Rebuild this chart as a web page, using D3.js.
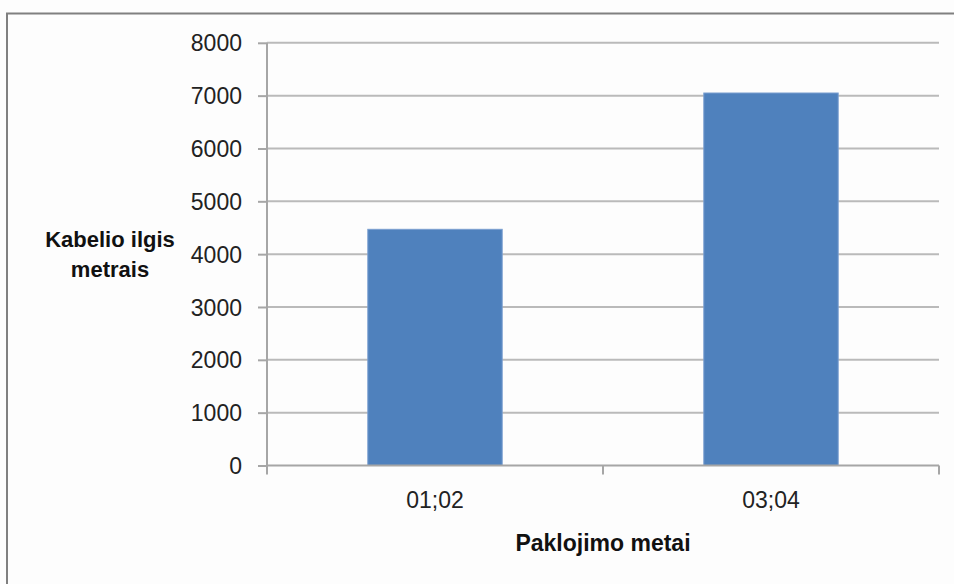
<!DOCTYPE html>
<html>
<head>
<meta charset="utf-8">
<script src="https://cdn.jsdelivr.net/npm/d3@7"></script>
<style>
  html, body { margin: 0; padding: 0; background: #fff; }
  svg { display: block; }
</style>
</head>
<body>
<svg id="chart" width="954" height="584"></svg>
<script>
// Cable length laid per period
const categories = ["01;02", "03;04"];
const lengths = [4470, 7050];
const yTicks = [0, 1000, 2000, 3000, 4000, 5000, 6000, 7000, 8000];
const yTitleLines = ["Kabelio ilgis", "metrais"];
const xTitle = "Paklojimo metai";

const svg = d3.select("#chart");
const W = 954, H = 584;
const plot = { left: 267, right: 939, top: 42.8, bottom: 465.5 };

svg.append("rect").attr("width", W).attr("height", H).attr("fill", "#fdfdfd");

// outer chart frame
svg.append("rect")
  .attr("x", 7).attr("y", 13.5)
  .attr("width", 980).attr("height", 600)
  .attr("fill", "none").attr("stroke", "#808080").attr("stroke-width", 2);

const x = d3.scaleBand()
  .domain(categories)
  .range([plot.left, plot.right])
  .paddingInner(0.6)
  .paddingOuter(0.3);

const y = d3.scaleLinear()
  .domain([0, 8000])
  .range([plot.bottom, plot.top]);

// horizontal gridlines
svg.append("g")
  .selectAll("line")
  .data(yTicks.filter(d => d > 0))
  .join("line")
  .attr("x1", plot.left).attr("x2", plot.right)
  .attr("y1", d => y(d)).attr("y2", d => y(d))
  .attr("stroke", "#bababa").attr("stroke-width", 2);

// bars
svg.append("g")
  .selectAll("rect")
  .data(categories.map((c, i) => ({ c, v: lengths[i] })))
  .join("rect")
  .attr("x", d => x(d.c))
  .attr("y", d => y(d.v))
  .attr("width", x.bandwidth())
  .attr("height", d => y(0) - y(d.v))
  .attr("fill", "#4f81bd")
  .attr("stroke", "#7a9fd0")
  .attr("stroke-width", 1);

const font = "'Liberation Sans', Arial, sans-serif";

// y axis
const yAxis = svg.append("g")
  .attr("transform", `translate(${plot.left},0)`)
  .call(d3.axisLeft(y).tickValues(yTicks).tickSize(9).tickPadding(16).tickFormat(d3.format("d")));
yAxis.select(".domain").attr("stroke", "#a6a6a6").attr("stroke-width", 2)
  .attr("d", `M0,${plot.top}V${plot.bottom}`);
yAxis.selectAll(".tick line").attr("stroke", "#a6a6a6").attr("stroke-width", 2);
yAxis.selectAll(".tick text")
  .attr("font-family", font).attr("font-size", 23).attr("fill", "#222")
  .attr("dy", "0.35em");

// x axis
const xAxis = svg.append("g")
  .attr("transform", `translate(0,${plot.bottom})`)
  .call(d3.axisBottom(x).tickSize(0).tickPadding(26));
xAxis.select(".domain").attr("stroke", "#a6a6a6").attr("stroke-width", 2)
  .attr("d", `M${plot.left},0H${plot.right}`);
xAxis.selectAll(".tick text")
  .attr("font-family", font).attr("font-size", 23).attr("fill", "#222");

// category boundary ticks on the x axis
const bounds = [plot.left, (plot.left + plot.right) / 2, plot.right];
svg.append("g")
  .selectAll("line")
  .data(bounds)
  .join("line")
  .attr("x1", d => d).attr("x2", d => d)
  .attr("y1", plot.bottom).attr("y2", plot.bottom + 9)
  .attr("stroke", "#a6a6a6").attr("stroke-width", 2);

// axis titles
svg.append("text")
  .attr("x", (plot.left + plot.right) / 2).attr("y", 551)
  .attr("text-anchor", "middle")
  .attr("font-family", font).attr("font-weight", "bold").attr("font-size", 23)
  .attr("fill", "#111")
  .text(xTitle);

svg.append("text")
  .attr("text-anchor", "middle")
  .attr("font-family", font).attr("font-weight", "bold").attr("font-size", 22)
  .attr("fill", "#111")
  .selectAll("tspan")
  .data(yTitleLines)
  .join("tspan")
  .attr("x", 110)
  .attr("y", (d, i) => 247 + i * 30)
  .text(d => d);
</script>
</body>
</html>
